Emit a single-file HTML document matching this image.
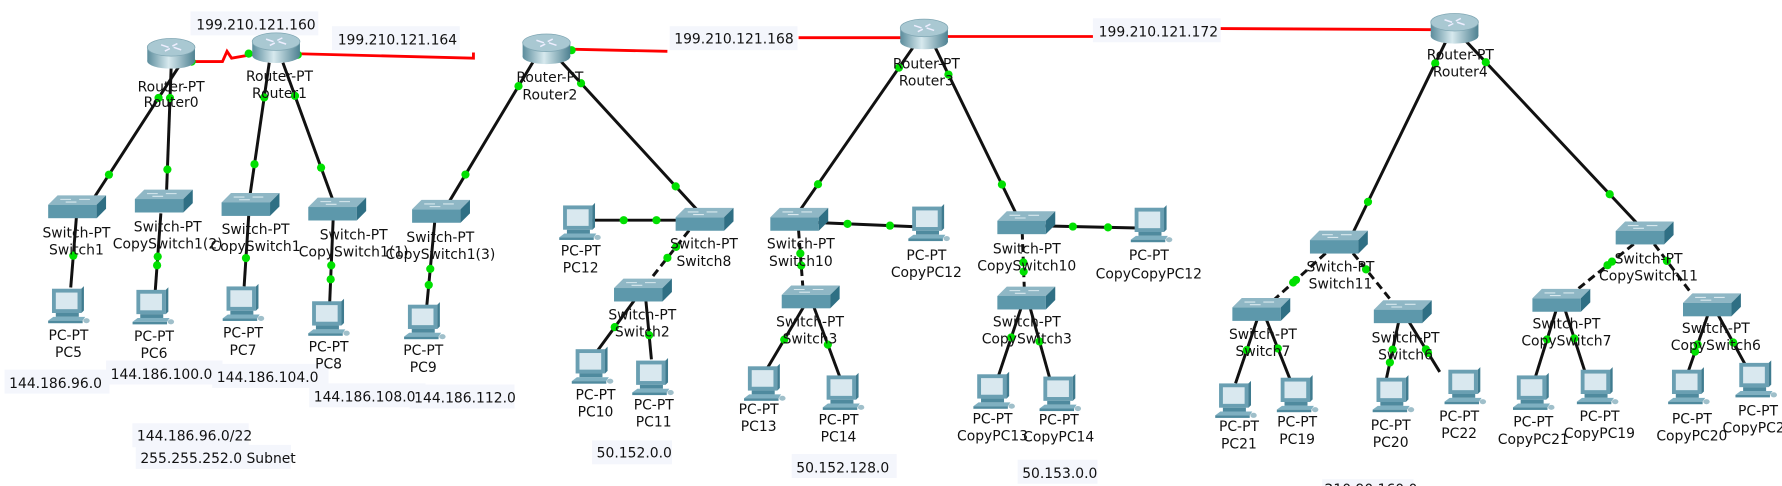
<!DOCTYPE html>
<html><head><meta charset="utf-8"><style>
html,body{margin:0;padding:0;background:#fff;}
svg{display:block;}
text{font-family:"DejaVu Sans","Liberation Sans",sans-serif;font-size:12.2px;fill:#111;}
.m{text-anchor:middle;}
</style></head><body>
<svg width="1782" height="486" viewBox="0 0 1562 426" xmlns="http://www.w3.org/2000/svg">
<defs>
<linearGradient id="rg" x1="0" x2="1" y1="0" y2="0">
<stop offset="0" stop-color="#5b8c9c"/><stop offset="0.45" stop-color="#d7e9ee"/><stop offset="1" stop-color="#4e8191"/>
</linearGradient>
<g id="rt"><g transform="scale(1.1)">
<rect x="-19" y="-5" width="38" height="11" fill="url(#rg)"/>
<ellipse cx="0" cy="6" rx="19" ry="6" fill="url(#rg)"/>
<ellipse cx="0" cy="-5" rx="19" ry="7" fill="#a9c8d2" stroke="#7fa6b3" stroke-width="0.6"/>
<path d="M-8,-7 L-2,-5 M8,-3 L2,-5 M-5,-2 L-1,-4 M5,-8 L1,-6" stroke="#eef" stroke-width="1.2"/>
</g></g>
<g id="sw"><g transform="scale(1.18)">
<polygon points="-21,-3 -14,-10 22,-10 15,-3" fill="#8fb7c5"/>
<rect x="-21" y="-3" width="36" height="10" fill="#5d98ab"/>
<polygon points="15,-3 22,-10 22,0 15,7" fill="#2f6f84"/>
<path d="M-12,-7 h8 M2,-7 h8 M-8,-5 h8" stroke="#d8e8ee" stroke-width="0.8"/>
</g></g>
<g id="pc"><g transform="scale(1.12)">
<rect x="-12" y="-16" width="23" height="19" fill="#6a9fb2"/>
<polygon points="11,-16 13,-18 13,1 11,3" fill="#3f7b8f"/>
<rect x="-9" y="-13" width="17" height="13" fill="#d9e8ef"/>
<rect x="-9" y="3" width="18" height="3" fill="#4f8a9e"/>
<polygon points="-15,9 -11,6 14,6 12,9" fill="#7fb0c1"/>
<rect x="-15" y="9" width="27" height="2" fill="#4f8a9e"/>
<ellipse cx="15" cy="9" rx="2.5" ry="2" fill="#9fbfca"/>
</g></g>
</defs>

<g fill="#f4f6fc">
<rect x="167" y="10" width="112" height="21"/>
<rect x="291" y="23" width="112" height="21"/>
<rect x="587" y="23" width="112" height="21"/>
<rect x="958" y="16" width="112" height="21"/>
<rect x="4" y="324" width="92" height="21"/>
<rect x="93" y="316" width="102" height="21"/>
<rect x="186" y="319" width="102" height="21"/>
<rect x="271" y="336" width="102" height="21"/>
<rect x="359" y="337" width="92" height="21"/>
<rect x="116" y="371" width="102" height="21"/>
<rect x="119" y="390" width="136" height="21"/>
<rect x="519" y="386" width="70" height="21"/>
<rect x="694" y="398" width="92" height="21"/>
<rect x="892" y="403" width="70" height="21"/>
<rect x="1159" y="420" width="80" height="10"/>
</g>
<text x="1161" y="433">210.90.160.0</text>

<g stroke="#ff0000" stroke-width="2.5" fill="none">
<polyline points="165,54 195,54 199,45 203,51 226,47"/>
<polyline points="257,47 415,51 415,46"/>
<line x1="495" y1="43" x2="585" y2="45"/>
<line x1="700" y1="33" x2="797" y2="33"/>
<line x1="825" y1="32" x2="958" y2="32"/>
<line x1="1070" y1="25" x2="1258" y2="26"/>
</g>

<g id="links" stroke="#111" stroke-width="2.6"></g>
<g id="dots" fill="#00e000"></g>

<use href="#rt" x="150" y="47"/>
<use href="#rt" x="242" y="42"/>
<use href="#rt" x="479" y="43"/>
<use href="#rt" x="810" y="30"/>
<use href="#rt" x="1275" y="25"/>

<use href="#sw" x="67" y="183"/>
<use href="#sw" x="143" y="178"/>
<use href="#sw" x="219" y="181"/>
<use href="#sw" x="295" y="185"/>
<use href="#sw" x="386" y="187"/>
<use href="#sw" x="617" y="194"/>
<use href="#sw" x="563" y="256"/>
<use href="#sw" x="700" y="194"/>
<use href="#sw" x="710" y="262"/>
<use href="#sw" x="899" y="197"/>
<use href="#sw" x="899" y="263"/>
<use href="#sw" x="1173" y="214"/>
<use href="#sw" x="1105" y="273"/>
<use href="#sw" x="1229" y="275"/>
<use href="#sw" x="1441" y="206"/>
<use href="#sw" x="1368" y="265"/>
<use href="#sw" x="1500" y="269"/>

<use href="#pc" x="59" y="271"/>
<use href="#pc" x="133" y="272"/>
<use href="#pc" x="212" y="269"/>
<use href="#pc" x="287" y="282"/>
<use href="#pc" x="371" y="285"/>
<use href="#pc" x="507" y="198"/>
<use href="#pc" x="518" y="324"/>
<use href="#pc" x="571" y="334"/>
<use href="#pc" x="669" y="339"/>
<use href="#pc" x="738" y="347"/>
<use href="#pc" x="813" y="199"/>
<use href="#pc" x="870" y="346"/>
<use href="#pc" x="928" y="348"/>
<use href="#pc" x="1008" y="200"/>
<use href="#pc" x="1082" y="354"/>
<use href="#pc" x="1136" y="349"/>
<use href="#pc" x="1220" y="349"/>
<use href="#pc" x="1283" y="342"/>
<use href="#pc" x="1343" y="347"/>
<use href="#pc" x="1399" y="342"/>
<use href="#pc" x="1479" y="342"/>
<use href="#pc" x="1538" y="336"/>

<text x="172" y="26">199.210.121.160</text>
<text x="296" y="39">199.210.121.164</text>
<text x="591" y="38">199.210.121.168</text>
<text x="963" y="32">199.210.121.172</text>
<text x="8" y="340">144.186.96.0</text>
<text x="97" y="332">144.186.100.0</text>
<text x="190" y="335">144.186.104.0</text>
<text x="275" y="352">144.186.108.0</text>
<text x="363" y="353">144.186.112.0</text>
<text x="120" y="386">144.186.96.0/22</text>
<text x="123" y="406">255.255.252.0 Subnet</text>
<text x="523" y="401">50.152.0.0</text>
<text x="698" y="414">50.152.128.0</text>
<text x="896" y="419">50.153.0.0</text>

<g>
<text class="m" x="150" y="80">Router-PT</text><text class="m" x="150" y="94">Router0</text>
<text class="m" x="245" y="71">Router-PT</text><text class="m" x="245" y="86">Router1</text>
<text class="m" x="482" y="72">Router-PT</text><text class="m" x="482" y="87">Router2</text>
<text class="m" x="812" y="60">Router-PT</text><text class="m" x="812" y="75">Router3</text>
<text class="m" x="1280" y="52">Router-PT</text><text class="m" x="1280" y="67">Router4</text>

<text class="m" x="67" y="208">Switch-PT</text><text class="m" x="67" y="223">Switch1</text>
<text class="m" x="147" y="203">Switch-PT</text><text class="m" x="147" y="218">CopySwitch1(2)</text>
<text class="m" x="224" y="205">Switch-PT</text><text class="m" x="224" y="220">CopySwitch1</text>
<text class="m" x="310" y="210">Switch-PT</text><text class="m" x="310" y="225">CopySwitch1(1)</text>
<text class="m" x="386" y="212">Switch-PT</text><text class="m" x="386" y="227">CopySwitch1(3)</text>
<text class="m" x="617" y="218">Switch-PT</text><text class="m" x="617" y="233">Switch8</text>
<text class="m" x="563" y="280">Switch-PT</text><text class="m" x="563" y="295">Switch2</text>
<text class="m" x="702" y="218">Switch-PT</text><text class="m" x="702" y="233">Switch10</text>
<text class="m" x="710" y="286">Switch-PT</text><text class="m" x="710" y="301">Switch3</text>
<text class="m" x="900" y="222">Switch-PT</text><text class="m" x="900" y="237">CopySwitch10</text>
<text class="m" x="900" y="286">Switch-PT</text><text class="m" x="900" y="301">CopySwitch3</text>
<text class="m" x="1175" y="238">Switch-PT</text><text class="m" x="1175" y="253">Switch11</text>
<text class="m" x="1107" y="297">Switch-PT</text><text class="m" x="1107" y="312">Switch7</text>
<text class="m" x="1232" y="300">Switch-PT</text><text class="m" x="1232" y="315">Switch6</text>
<text class="m" x="1445" y="231">Switch-PT</text><text class="m" x="1445" y="246">CopySwitch11</text>
<text class="m" x="1373" y="288">Switch-PT</text><text class="m" x="1373" y="303">CopySwitch7</text>
<text class="m" x="1504" y="292">Switch-PT</text><text class="m" x="1504" y="307">CopySwitch6</text>

<text class="m" x="60" y="298">PC-PT</text><text class="m" x="60" y="313">PC5</text>
<text class="m" x="135" y="299">PC-PT</text><text class="m" x="135" y="314">PC6</text>
<text class="m" x="213" y="296">PC-PT</text><text class="m" x="213" y="311">PC7</text>
<text class="m" x="288" y="308">PC-PT</text><text class="m" x="288" y="323">PC8</text>
<text class="m" x="371" y="311">PC-PT</text><text class="m" x="371" y="326">PC9</text>
<text class="m" x="509" y="224">PC-PT</text><text class="m" x="509" y="239">PC12</text>
<text class="m" x="522" y="350">PC-PT</text><text class="m" x="522" y="365">PC10</text>
<text class="m" x="573" y="359">PC-PT</text><text class="m" x="573" y="374">PC11</text>
<text class="m" x="665" y="363">PC-PT</text><text class="m" x="665" y="378">PC13</text>
<text class="m" x="735" y="372">PC-PT</text><text class="m" x="735" y="387">PC14</text>
<text class="m" x="812" y="228">PC-PT</text><text class="m" x="812" y="243">CopyPC12</text>
<text class="m" x="870" y="371">PC-PT</text><text class="m" x="870" y="386">CopyPC13</text>
<text class="m" x="928" y="372">PC-PT</text><text class="m" x="928" y="387">CopyPC14</text>
<text class="m" x="1007" y="228">PC-PT</text><text class="m" x="1007" y="244">CopyCopyPC12</text>
<text class="m" x="1086" y="378">PC-PT</text><text class="m" x="1086" y="393">PC21</text>
<text class="m" x="1137" y="374">PC-PT</text><text class="m" x="1137" y="389">PC19</text>
<text class="m" x="1219" y="377">PC-PT</text><text class="m" x="1219" y="392">PC20</text>
<text class="m" x="1279" y="369">PC-PT</text><text class="m" x="1279" y="384">PC22</text>
<text class="m" x="1344" y="374">PC-PT</text><text class="m" x="1344" y="389">CopyPC21</text>
<text class="m" x="1402" y="369">PC-PT</text><text class="m" x="1402" y="384">CopyPC19</text>
<text class="m" x="1483" y="371">PC-PT</text><text class="m" x="1483" y="386">CopyPC20</text>
<text class="m" x="1541" y="364">PC-PT</text><text class="m" x="1541" y="379">CopyPC22</text>
</g>

<script>
var L=[
[157,58,82,174,0,[0.24,0.82]],
[150,60,146,168,0,[0.24,0.82]],
[236,55,219,172,0,[0.26,0.76]],
[248,55,292,176,0,[0.24,0.76]],
[468,53,393,178,0,[0.18,0.8]],
[491,53,613,186,0,[0.15,0.83]],
[800,42,700,186,0,[0.12,0.83]],
[820,42,891,188,0,[0.16,0.82]],
[1268,35,1185,206,0,[0.12,0.83]],
[1284,35,1437,198,0,[0.12,0.83]],
[67,190,62,252,0,[0.55]],
[141,187,136,256,0,[0.55,0.66]],
[218,189,214,251,0,[0.6]],
[292,193,289,265,0,[0.55,0.72]],
[381,195,374,269,0,[0.55,0.74]],
[600,193,518,193,0,[0.3,0.65]],
[604,202,566,250,1,[0.3,0.5]],
[557,262,524,307,0,[0.55]],
[566,262,571,315,0,[0.6]],
[715,195,808,199,0,[0.3,0.7]],
[700,202,704,255,1,[0.38,0.58]],
[705,268,673,322,0,[0.55]],
[713,268,736,330,0,[0.55]],
[914,198,1002,200,0,[0.3,0.65]],
[896,203,898,257,1,[0.5,0.65]],
[895,270,875,330,0,[0.43]],
[903,270,920,331,0,[0.48]],
[1162,222,1112,267,1,[0.52,0.57]],
[1186,222,1224,269,1,[0.3]],
[1102,280,1083,336,0,[0.48]],
[1110,280,1131,333,0,[0.48]],
[1226,282,1215,333,0,[0.48,0.7]],
[1235,282,1262,326,0,[0.55,0.62]],
[1432,214,1376,259,1,[0.34,0.41]],
[1450,214,1487,263,1,[0.3]],
[1364,272,1346,330,0,[0.44]],
[1372,272,1390,328,0,[0.44]],
[1497,276,1479,328,0,[0.5,0.62]],
[1506,276,1530,320,0,[0.55]]
];
var ns="http://www.w3.org/2000/svg",g=document.getElementById("links"),d=document.getElementById("dots");
L.forEach(function(e){
 var l=document.createElementNS(ns,"line");
 l.setAttribute("x1",e[0]);l.setAttribute("y1",e[1]);l.setAttribute("x2",e[2]);l.setAttribute("y2",e[3]);
 if(e[4])l.setAttribute("stroke-dasharray","7,4");
 g.appendChild(l);
 e[5].forEach(function(f){var c=document.createElementNS(ns,"circle");
  c.setAttribute("cx",e[0]+(e[2]-e[0])*f);c.setAttribute("cy",e[1]+(e[3]-e[1])*f);c.setAttribute("r",3.6);d.appendChild(c);});
});
[[168,54],[218,47],[261,48],[465,43],[501,44],[795,33],[826,33],[1258,26]].forEach(function(p){
 var c=document.createElementNS(ns,"circle");c.setAttribute("cx",p[0]);c.setAttribute("cy",p[1]);c.setAttribute("r",3.6);d.appendChild(c);});
</script>
</svg>
</body></html>
